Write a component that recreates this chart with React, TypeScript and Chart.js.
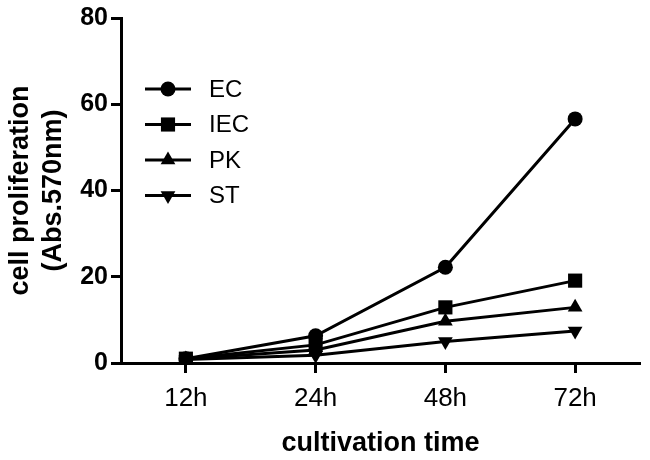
import React, { useEffect, useRef } from "react";
import { Chart, registerables } from "chart.js";

Chart.register(...registerables);

const categories = ["12h", "24h", "48h", "72h"];
const seriesNames = ["EC", "IEC", "PK", "ST"];
const ecValues = [1.0, 6.3, 22.2, 56.6];
const iecValues = [1.0, 4.2, 12.9, 19.1];
const pkValues = [0.9, 3.0, 9.7, 12.9];
const stValues = [0.8, 1.8, 5.0, 7.4];
const yTicks = [0, 20, 40, 60, 80];

const FONT = "'Liberation Sans', Arial, Helvetica, sans-serif";

const markerStyles = [
  { pointStyle: "circle", radius: 7.5, rotation: 0 },
  { pointStyle: "rect", radius: 10, rotation: 0 },
  { pointStyle: "triangle", radius: 8.5, rotation: 0 },
  { pointStyle: "triangle", radius: 8.5, rotation: 180 },
];

function drawMarker(ctx: CanvasRenderingContext2D, style: string, r: number, rot: number, x: number, y: number) {
  ctx.save();
  ctx.translate(x, y);
  ctx.rotate((rot * Math.PI) / 180);
  ctx.beginPath();
  if (style === "circle") {
    ctx.arc(0, 0, r, 0, Math.PI * 2);
  } else if (style === "rect") {
    const s = r * Math.SQRT1_2;
    ctx.rect(-s, -s, 2 * s, 2 * s);
  } else {
    const a = -Math.PI / 2;
    for (let i = 0; i < 3; i++) {
      const ang = a + (i * 2 * Math.PI) / 3;
      const px = Math.cos(ang) * r;
      const py = Math.sin(ang) * r;
      if (i === 0) ctx.moveTo(px, py);
      else ctx.lineTo(px, py);
    }
    ctx.closePath();
  }
  ctx.fillStyle = "#000";
  ctx.fill();
  ctx.restore();
}

const legendPlugin = {
  id: "lineLegend",
  afterDraw(chart: any) {
    const ctx: CanvasRenderingContext2D = chart.ctx;
    const area = chart.chartArea;
    const x0 = area.left + 24;
    const x1 = x0 + 46;
    const startY = area.top + 71;
    const step = 35.5;
    ctx.save();
    chart.data.datasets.forEach((ds: any, i: number) => {
      const y = startY + i * step;
      ctx.strokeStyle = "#000";
      ctx.lineWidth = 3;
      ctx.beginPath();
      ctx.moveTo(x0, y);
      ctx.lineTo(x1, y);
      ctx.stroke();
      const m = markerStyles[i];
      drawMarker(ctx, m.pointStyle, m.radius, m.rotation, (x0 + x1) / 2, y);
      ctx.fillStyle = "#000";
      ctx.font = `24px ${FONT}`;
      ctx.textBaseline = "middle";
      ctx.textAlign = "left";
      ctx.fillText(ds.label, x1 + 18, y + 1);
    });
    ctx.restore();
  },
};

export default function App() {
  const ref = useRef<HTMLCanvasElement | null>(null);

  useEffect(() => {
    if (!ref.current) return;
    const seriesValues = [ecValues, iecValues, pkValues, stValues];
    const chart = new Chart(ref.current, {
      type: "line",
      data: {
        labels: categories,
        datasets: seriesNames.map((name, i) => ({
          label: name,
          data: seriesValues[i],
          borderColor: "#000",
          backgroundColor: "#000",
          borderWidth: 3,
          pointStyle: markerStyles[i].pointStyle as any,
          pointRadius: markerStyles[i].radius,
          pointRotation: markerStyles[i].rotation,
          pointBorderWidth: 0,
          pointBackgroundColor: "#000",
          tension: 0,
        })),
      },
      options: {
        responsive: false,
        animation: false,
        layout: { padding: { top: 17, right: 9, left: 0, bottom: 0 } },
        plugins: {
          legend: { display: false },
          tooltip: { enabled: false },
        },
        scales: {
          x: {
            type: "category",
            offset: true,
            border: { display: true, color: "#000", width: 3 },
            grid: {
              display: true,
              drawOnChartArea: false,
              drawTicks: true,
              tickLength: 10,
              tickWidth: 3,
              tickColor: "#000",
              offset: false,
            },
            ticks: {
              color: "#000",
              font: { family: FONT, size: 26 },
              padding: 10,
            },
            title: {
              display: true,
              text: "cultivation time",
              color: "#000",
              font: { family: FONT, size: 27, weight: "bold" },
              padding: { top: 10, bottom: 0 },
            },
            afterFit(scale: any) {
              scale.height = 97;
            },
          },
          y: {
            min: 0,
            max: 80,
            afterBuildTicks(scale: any) {
              scale.ticks = yTicks.map((v) => ({ value: v }));
            },
            border: { display: true, color: "#000", width: 3 },
            grid: {
              display: true,
              drawOnChartArea: false,
              drawTicks: true,
              tickLength: 10,
              tickWidth: 3,
              tickColor: "#000",
            },
            ticks: {
              color: "#000",
              font: { family: FONT, size: 25, weight: "bold" },
              padding: 3,
            },
            title: {
              display: true,
              text: ["cell proliferation", "(Abs.570nm)"],
              color: "#000",
              font: { family: FONT, size: 27, weight: "bold", lineHeight: 1.22 },
              padding: { top: 4, bottom: 0 },
            },
            afterFit(scale: any) {
              scale.width = 121;
            },
          },
        },
      },
      plugins: [legendPlugin],
    });
    return () => chart.destroy();
  }, []);

  return (
    <div style={{ position: "fixed", left: 0, top: 0, width: 650, height: 460, background: "#fff" }}>
      <canvas ref={ref} width={650} height={460} style={{ display: "block" }} />
    </div>
  );
}
